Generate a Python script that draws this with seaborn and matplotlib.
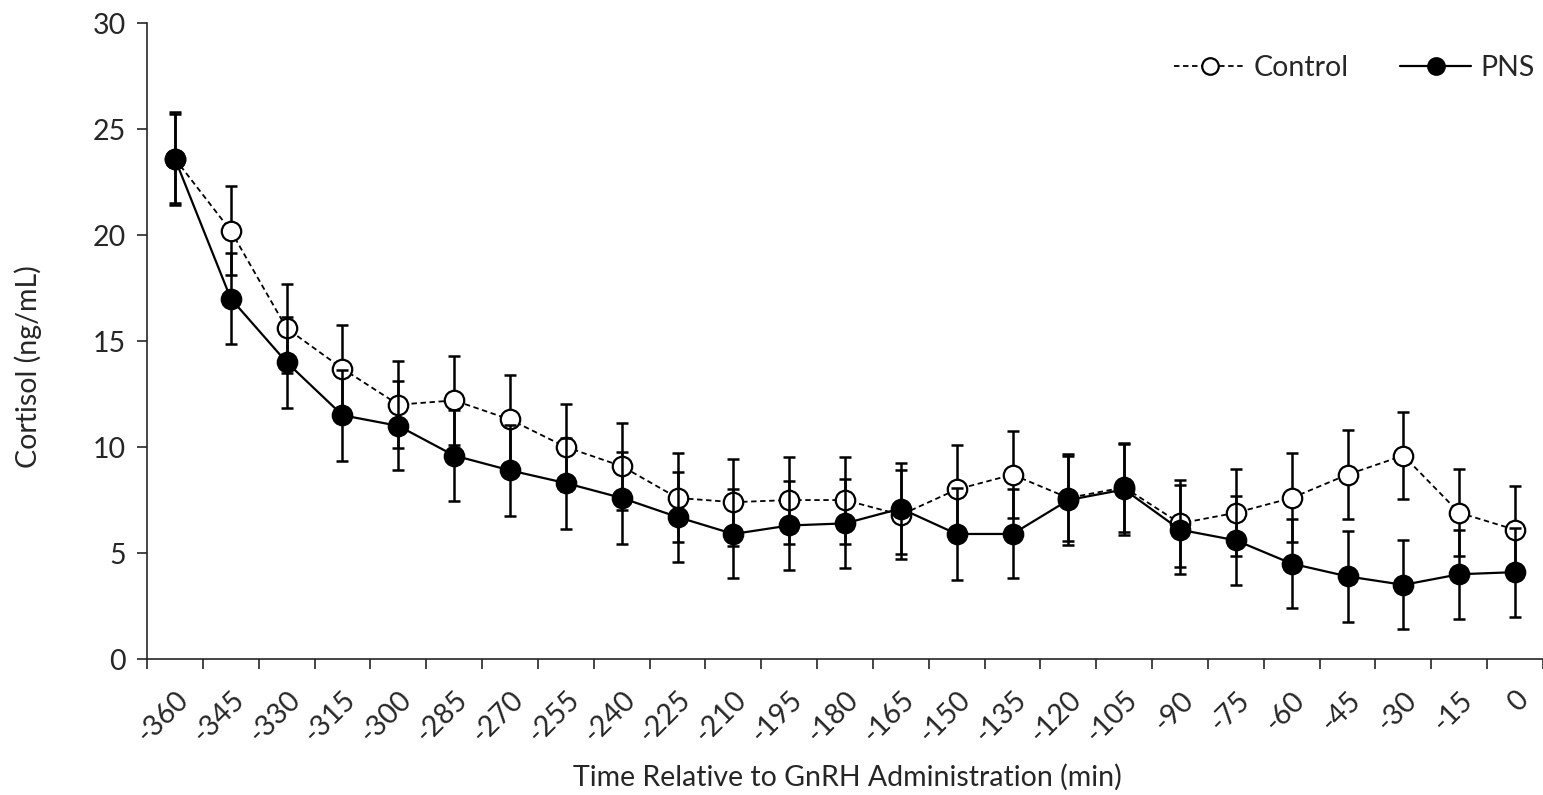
import matplotlib
matplotlib.use("Agg")
import matplotlib.pyplot as plt
import numpy as np
import pandas as pd
import seaborn as sns

# time points (min relative to GnRH)
times = [-360, -345, -330, -315, -300, -285, -270, -255, -240, -225, -210, -195, -180,
         -165, -150, -135, -120, -105, -90, -75, -60, -45, -30, -15, 0]

control_mean = [23.6, 20.2, 15.6, 13.7, 12.0, 12.2, 11.3, 10.0, 9.1, 7.6, 7.4, 7.5, 7.5,
                6.8, 8.0, 8.7, 7.6, 8.1, 6.4, 6.9, 7.6, 8.7, 9.6, 6.9, 6.1]
control_sem = [2.1, 2.1, 2.1, 2.05, 2.05, 2.1, 2.1, 2.05, 2.05, 2.1, 2.05, 2.05, 2.05,
               2.1, 2.1, 2.05, 2.05, 2.1, 2.05, 2.05, 2.1, 2.1, 2.05, 2.05, 2.05]

pns_mean = [23.6, 17.0, 14.0, 11.5, 11.0, 9.6, 8.9, 8.3, 7.6, 6.7, 5.9, 6.3, 6.4,
            7.1, 5.9, 5.9, 7.5, 8.0, 6.1, 5.6, 4.5, 3.9, 3.5, 4.0, 4.1]
pns_sem = [2.2, 2.15, 2.15, 2.15, 2.1, 2.15, 2.15, 2.15, 2.15, 2.1, 2.1, 2.1, 2.1,
           2.15, 2.15, 2.1, 2.1, 2.15, 2.1, 2.1, 2.1, 2.15, 2.1, 2.1, 2.1]


def build_data():
    pos = np.arange(len(times))
    rows = []
    for name, mean, sem in [("Control", control_mean, control_sem),
                            ("PNS", pns_mean, pns_sem)]:
        for p, t, m, s in zip(pos, times, mean, sem):
            rows.append({"pos": p, "time": t, "cortisol": m, "sem": s, "group": name})
    return pd.DataFrame(rows)


def show(df):
    sns.set_style("ticks")
    plt.rcParams['font.family'] = ['Lato', 'DejaVu Sans']
    fs = 20.5

    fig = plt.figure(figsize=(15.43, 7.95), dpi=100)
    ax = fig.add_axes([0.0953, 0.171, 0.9047, 0.80])

    styles = {
        "Control": dict(ls=(0, (3, 2)), lw=1.3, mfc="white", z=2),
        "PNS": dict(ls="-", lw=1.6, mfc="black", z=3),
    }

    for name in ["Control", "PNS"]:
        sub = df[df["group"] == name]
        st = styles[name]
        ax.errorbar(sub["pos"], sub["cortisol"], yerr=sub["sem"], fmt="none",
                    ecolor="black", elinewidth=1.8, capsize=4.3, capthick=1.8,
                    zorder=st["z"])
        sns.lineplot(data=sub, x="pos", y="cortisol", ax=ax, color="black",
                     linestyle=st["ls"], linewidth=st["lw"], marker="o",
                     markersize=14, markerfacecolor=st["mfc"],
                     markeredgecolor="black", markeredgewidth=1.6,
                     zorder=st["z"] + 0.5, label=name)

    ax.set_xlim(-0.5, len(times) - 0.66)
    ax.set_ylim(0, 30)
    ax.set_yticks(range(0, 31, 5))
    ax.set_xticks(np.arange(len(times)))
    ax.set_xticklabels([str(t) for t in times], rotation=45, ha="right",
                       rotation_mode="anchor", fontsize=fs)
    ax.set_xticks(np.arange(len(times) + 1) - 0.5, minor=True)
    ax.tick_params(axis="x", which="major", length=0, pad=20)
    ax.tick_params(axis="x", which="minor", length=7, width=1.2, direction="out")
    ax.tick_params(axis="y", labelsize=fs, length=7, width=1.2, direction="out", pad=8)

    ax.set_xlabel("Time Relative to GnRH Administration (min)", fontsize=fs)
    ax.set_ylabel("Cortisol (ng/mL)", fontsize=fs)
    ax.xaxis.set_label_coords(0.502, -0.165)
    ax.yaxis.set_label_coords(-0.075, 0.46)

    for s in ["top", "right"]:
        ax.spines[s].set_visible(False)
    for s in ["left", "bottom"]:
        ax.spines[s].set_linewidth(1.2)

    ax.legend(loc="upper right", ncol=2, frameon=False, fontsize=fs,
              handlelength=2.5, columnspacing=1.8, handletextpad=0.3,
              markerscale=0.85, bbox_to_anchor=(1.012, 0.99))

    fig.savefig("out.png", dpi=100)


def main():
    df = build_data()
    show(df)


if __name__ == '__main__':
    main()
